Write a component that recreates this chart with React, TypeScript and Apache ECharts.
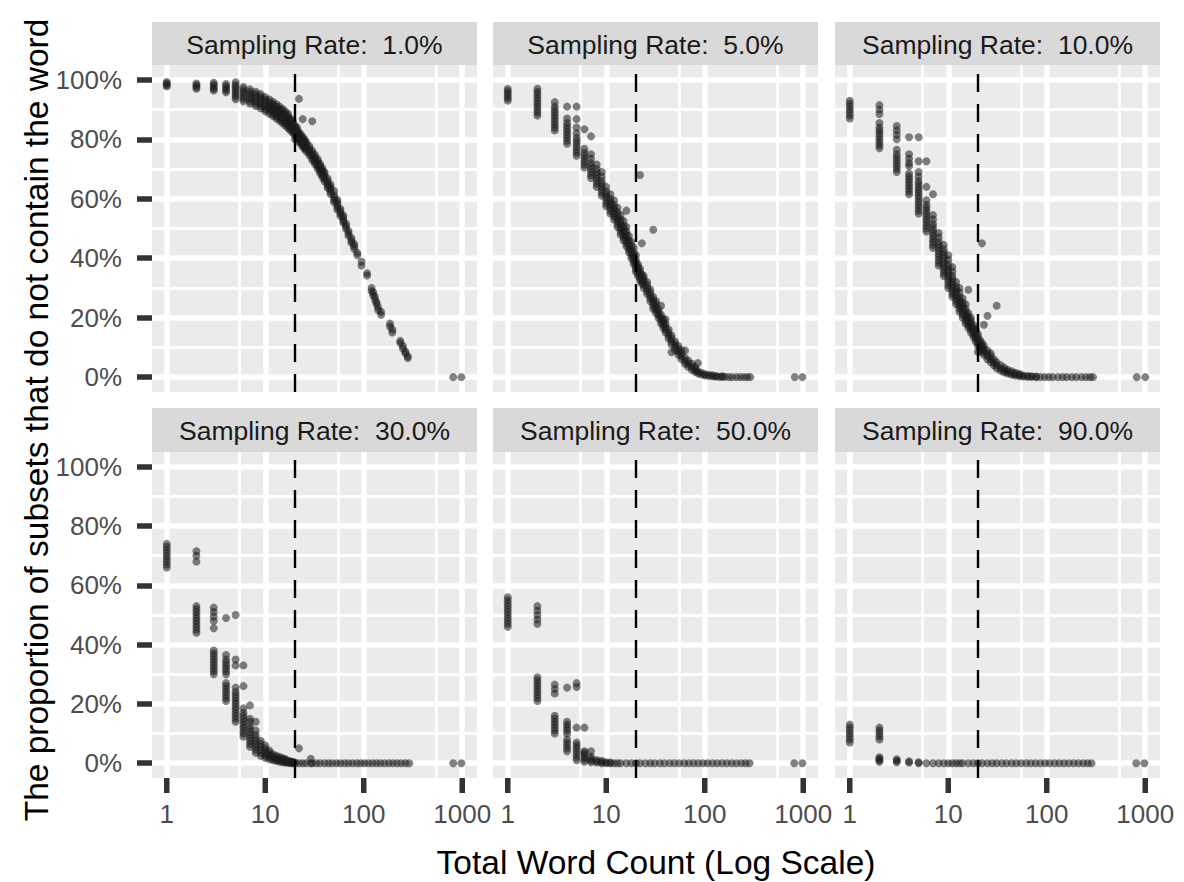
import React, { useEffect, useRef } from "react";
import * as echarts from "echarts";

const FONT = "'Liberation Sans', Arial, Helvetica, sans-serif";

// ---- axis / reference values ----
const xMin = 0.708;
const xMax = 1412.5;
const yMin = -5;
const yMax = 105;
const xTickValues = [1, 10, 100, 1000];
const xMinorGrid = [5.5, 55, 550];
const yTickValues = [0, 20, 40, 60, 80, 100];
const yMinorGrid = [10, 30, 50, 70, 90];
const thresholdCount = 20;
const xTitle = "Total Word Count (Log Scale)";
const yTitle = "The proportion of subsets that do not contain the word";
const panelTitles = [
  "Sampling Rate:  1.0%",
  "Sampling Rate:  5.0%",
  "Sampling Rate:  10.0%",
  "Sampling Rate:  30.0%",
  "Sampling Rate:  50.0%",
  "Sampling Rate:  90.0%",
];

// ---- data: [total word count, proportions (%) observed at that count] ----
const rate1: [number, number[]][] = [
  [1, [97.8, 98.3, 98.8, 99.3]],
  [2, [97, 97.6, 98.2, 98.8]],
  [3, [96.4, 97, 97.7, 98.4, 99]],
  [4, [95.8, 96.5, 97.2, 97.9, 98.6]],
  [5, [93.5, 94.3, 95.1, 95.9, 96.7, 97.5, 98.3, 99.2]],
  [6, [92.8, 93.6, 94.4, 95.2, 96, 96.8, 97.6]],
  [7, [92, 92.8, 93.6, 94.4, 95.2, 96, 96.8]],
  [8, [91.2, 92, 92.8, 93.6, 94.4, 95.2, 96]],
  [9, [90.4, 91.2, 92, 92.8, 93.6, 94.4, 95.2]],
  [10, [89.4, 90.2, 91, 91.8, 92.6, 93.4, 94.2]],
  [11, [88.6, 89.4, 90.2, 91, 91.8, 92.6, 93.4]],
  [12, [87.8, 88.6, 89.4, 90.2, 91, 91.8, 92.6]],
  [13, [87, 87.8, 88.6, 89.4, 90.2, 91, 91.8]],
  [14, [86.2, 87, 87.8, 88.6, 89.4, 90.2, 91]],
  [15, [85.4, 86.2, 87, 87.8, 88.6, 89.4, 90.2]],
  [16, [84.6, 85.4, 86.2, 87, 87.8, 88.6, 89.4]],
  [17, [83.8, 84.6, 85.4, 86.2, 87, 87.8, 88.6]],
  [18, [83, 83.8, 84.6, 85.4, 86.2, 87]],
  [19, [82.2, 83, 83.8, 84.6, 85.4, 86.2]],
  [20, [80, 81.5, 82.3, 83.1, 83.9, 84.7]],
  [21, [80, 80.8, 81.6, 82.4, 83.2, 84]],
  [22, [79.2, 80, 80.8, 81.6, 82.4, 93.6]],
  [23, [78.4, 79.2, 80, 80.8, 81.6]],
  [24, [77.6, 78.4, 79.2, 80, 80.8, 86.8]],
  [25, [76.8, 77.6, 78.4, 79.2, 80]],
  [26, [76, 76.8, 77.6, 78.4, 79.2]],
  [28, [74.6, 75.4, 76.2, 77, 77.8]],
  [30, [73, 73.8, 74.6, 75.4, 76.2, 86.1]],
  [32, [71.6, 72.4, 73.2, 74, 74.8]],
  [34, [70.2, 71, 71.8, 72.6, 73.4]],
  [36, [68.6, 69.4, 70.2, 71, 71.8]],
  [38, [67.2, 68, 68.8, 69.6, 70.4]],
  [40, [65.8, 66.6, 67.4, 68.2, 69]],
  [43, [63.6, 64.4, 65.2, 66, 66.8]],
  [46, [61.6, 62.4, 63.2, 64, 64.8]],
  [50, [58.8, 59.6, 60.4, 61.2, 62.6]],
  [54, [56.4, 57.2, 58, 58.8, 59.6]],
  [58, [54.2, 55, 55.8, 56.6]],
  [62, [52, 52.8, 53.6, 54.4]],
  [66, [50, 50.8, 51.6]],
  [70, [47.6, 48.4, 49.2]],
  [75, [45.2, 46, 46.8]],
  [80, [43.2, 44, 44.8]],
  [86, [41, 41.8]],
  [95, [37.5, 38.8]],
  [108, [34.2, 35]],
  [120, [29, 30]],
  [125, [27.5, 28.5]],
  [130, [26, 27]],
  [135, [24.5, 25.2]],
  [140, [22.6, 23.5]],
  [150, [21, 22]],
  [185, [17, 18]],
  [195, [15, 16]],
  [235, [11.5, 12.2]],
  [250, [9.6, 10.5]],
  [265, [8, 8.6]],
  [280, [6.4, 7]],
  [810, [0]],
  [980, [0]],
];

const rate5: [number, number[]][] = [
  [1, [93, 93.8, 94.6, 95.4, 96.2, 97]],
  [2, [88, 89, 90, 91, 92, 93, 94, 95, 96, 97]],
  [3, [83, 84, 85, 86, 87, 88, 89, 90, 91, 92.5]],
  [4, [78.5, 79.5, 80.5, 81.5, 82.5, 83.5, 84.5, 85.5, 87, 91]],
  [5, [74.5, 75.5, 76.5, 77.5, 78.5, 79.5, 80.5, 82, 84, 86.8, 91]],
  [6, [70.5, 71.5, 72.5, 73.5, 74.5, 75.5, 76.8, 83.4]],
  [7, [67, 68, 69, 70, 71, 72, 73.5, 75, 81]],
  [8, [64, 65, 66, 67, 68, 69, 70, 71.5]],
  [9, [61, 62, 63, 64, 65, 66, 67.5, 69]],
  [10, [57.5, 58.5, 59.5, 60.5, 61.5, 62.5, 64]],
  [11, [55, 56, 57, 58, 59, 60, 61.5]],
  [12, [53, 54, 55, 56, 57, 58, 59.5]],
  [13, [50.5, 51.5, 52.5, 53.5, 54.5, 55.5, 57]],
  [14, [48, 49, 50, 51, 52, 53, 54.5]],
  [15, [46, 47, 48, 49, 50, 51, 52.5]],
  [16, [44, 45, 46, 47, 48, 49, 50.5, 56]],
  [17, [42, 43, 44, 45, 46, 47.5]],
  [18, [40, 41, 42, 43, 44, 45.5]],
  [19, [38, 39, 40, 41, 42, 43.5]],
  [20, [35.5, 36.5, 37.5, 38.5, 39.5, 41]],
  [21, [34, 35, 36, 37, 38]],
  [22, [32.5, 33.5, 34.5, 35.5, 36.5, 68]],
  [23, [31.5, 32.5, 33.5, 34.5, 45]],
  [24, [30, 31, 32, 33, 34]],
  [26, [28, 29, 30, 31, 32]],
  [28, [25.5, 26.5, 27.5, 28.5, 29.5]],
  [30, [23, 24, 25, 26, 27, 49.6]],
  [32, [21.5, 22.5, 23.5, 24.5, 25.5]],
  [34, [19.8, 20.8, 21.8, 22.8]],
  [36, [18, 19, 20, 21, 24]],
  [38, [16.5, 17.5, 18.5, 19.5]],
  [40, [15, 16, 17, 18, 19.5]],
  [43, [13, 14, 15, 16]],
  [46, [11, 12, 13, 14, 8.4]],
  [50, [9, 10, 11, 12]],
  [54, [7.5, 8.5, 9.5, 10.5]],
  [58, [6, 7, 8, 9]],
  [63, [4.5, 5.5, 6.5, 9]],
  [68, [3.5, 4.5, 5.5]],
  [74, [2.5, 3.5, 4.5]],
  [80, [1.8, 2.6, 3.4]],
  [85, [1.3, 2, 4.7]],
  [92, [0.9, 1.5]],
  [100, [0.6, 1]],
  [110, [0.4, 0.8]],
  [120, [0.3, 0.6]],
  [130, [0.2, 0.4]],
  [140, [0.1]],
  [150, [0.1, 0.3]],
  [160, [0.1]],
  [175, [0]],
  [190, [0]],
  [210, [0]],
  [230, [0]],
  [250, [0]],
  [270, [0]],
  [290, [0]],
  [820, [0]],
  [980, [0]],
];

const rate10: [number, number[]][] = [
  [1, [87, 88, 89, 90, 91, 92, 93]],
  [2, [77, 78, 79, 80, 81, 82, 83, 84, 85.5, 88.5, 90, 91.5]],
  [3, [69, 70, 71, 72, 73, 74, 75, 76.5, 80, 81.5, 83, 84.5]],
  [4, [61.5, 62.5, 63.5, 64.5, 65.5, 66.5, 67.5, 68.5, 71, 72, 73.5, 75, 80.7]],
  [5, [55, 56, 57, 58, 59, 60, 61, 62, 63, 64, 65, 66, 67.5, 69, 72.6, 80.7]],
  [6, [49, 50, 51, 52, 53, 54, 55, 56, 57, 58, 59.5, 64, 72.6]],
  [7, [43.5, 44.5, 45.5, 46.5, 47.5, 48.5, 49.5, 50.5, 51.5, 53, 54.5, 61.5]],
  [8, [37.5, 38.5, 39.5, 40.5, 41.5, 42.5, 43.5, 44.5, 45.5, 47, 48.5]],
  [9, [34, 35, 36, 37, 38, 39, 40, 41, 42, 43, 44.5]],
  [10, [30, 31, 32, 33, 34, 35, 36, 37, 38, 39.5, 41]],
  [11, [27, 28, 29, 30, 31, 32, 33, 34, 35.5, 37]],
  [12, [24.5, 25.5, 26.5, 27.5, 28.5, 29.5, 30.5, 32]],
  [13, [22, 23, 24, 25, 26, 27, 28.5, 30]],
  [14, [20, 21, 22, 23, 24, 25, 26.5]],
  [15, [18, 19, 20, 21, 22, 23, 24.5]],
  [16, [16.5, 17.5, 18.5, 19.5, 20.5, 21.5, 29.4]],
  [17, [15, 16, 17, 18, 19, 20]],
  [18, [13.5, 14.5, 15.5, 16.5, 17.5]],
  [19, [12, 13, 14, 15, 16]],
  [20, [10.5, 11.5, 12.5, 13.5, 14.5, 8.5]],
  [21, [9.5, 10.5, 11.5, 12.5]],
  [22, [8.5, 9.5, 10.5, 11.5, 45]],
  [23, [7.5, 8.5, 9.5, 10.5, 17.6]],
  [25, [6, 7, 8, 9, 20.6]],
  [27, [5, 6, 7, 8]],
  [29, [4, 5, 6]],
  [31, [3, 4, 5, 24]],
  [34, [2.2, 3, 4]],
  [37, [1.6, 2.4, 3.2]],
  [40, [1.2, 1.8, 2.5]],
  [44, [0.8, 1.4, 2]],
  [48, [0.5, 1, 1.5]],
  [53, [0.3, 0.7, 1.1]],
  [58, [0.2, 0.5]],
  [64, [0.1, 0.4]],
  [70, [0.1, 0.3]],
  [78, [0, 0.2]],
  [86, [0]],
  [95, [0]],
  [105, [0]],
  [115, [0]],
  [130, [0]],
  [145, [0]],
  [160, [0]],
  [180, [0]],
  [200, [0]],
  [225, [0]],
  [250, [0]],
  [275, [0]],
  [295, [0]],
  [820, [0]],
  [1000, [0]],
];

const rate30: [number, number[]][] = [
  [1, [66, 67, 68, 69, 70, 71, 72, 73, 74]],
  [2, [68, 70, 71.5, 44, 45, 46, 47, 48, 49, 50, 51, 52, 53]],
  [3, [45.5, 48, 49.5, 51, 52.5, 30, 31, 32, 33, 34, 35, 36, 37, 38]],
  [4, [49, 30, 31, 32, 33, 34, 35, 36.5, 21, 22, 23, 24, 25, 26, 27]],
  [5, [50, 33, 35, 14, 15, 16, 17, 18, 19, 20, 21, 22, 23, 24, 25.5]],
  [6, [33, 26, 9, 10, 11, 12, 13, 14, 15, 16, 17, 18.5]],
  [7, [19.5, 5.5, 6.5, 7.5, 8.5, 9.5, 10.5, 11.5, 12.5, 14, 15]],
  [8, [14, 3.5, 4.5, 5.5, 6.5, 7.5, 8.5, 9.5, 11]],
  [9, [2.5, 3.5, 4.5, 5.5, 6.5, 7.5]],
  [10, [1.8, 2.5, 3.3, 4.1, 5, 6]],
  [11, [1.3, 2, 2.7, 3.5, 4.3]],
  [12, [1, 1.6, 2.3, 3]],
  [13, [0.7, 1.2, 1.8, 2.5]],
  [14, [0.5, 1, 1.5, 2.1]],
  [15, [0.3, 0.7, 1.2, 1.7]],
  [16, [0.2, 0.5, 1, 1.4]],
  [17, [0.1, 0.4, 0.8]],
  [18, [0, 0.3, 0.6]],
  [19, [0, 0.2, 0.5]],
  [20, [0, 0.2]],
  [22, [0, 5]],
  [24, [0]],
  [26, [0]],
  [29, [0, 1.5]],
  [30, [0]],
  [33, [0]],
  [36, [0]],
  [40, [0]],
  [44, [0]],
  [48, [0]],
  [53, [0]],
  [58, [0]],
  [64, [0]],
  [70, [0]],
  [77, [0]],
  [85, [0]],
  [93, [0]],
  [102, [0]],
  [112, [0]],
  [123, [0]],
  [135, [0]],
  [148, [0]],
  [163, [0]],
  [180, [0]],
  [198, [0]],
  [218, [0]],
  [240, [0]],
  [265, [0]],
  [290, [0]],
  [810, [0]],
  [980, [0]],
];

const rate50: [number, number[]][] = [
  [1, [46, 47, 48, 49, 50, 51, 52, 53, 54, 55, 56]],
  [2, [47, 48.5, 50, 51.5, 53, 21, 22, 23, 24, 25, 26, 27, 28, 29]],
  [3, [23.5, 25, 26.5, 10, 11, 12, 13, 14, 15, 16]],
  [4, [25.5, 10, 11, 12, 13, 14, 4, 5, 6, 7, 8]],
  [5, [27, 25.7, 12, 1, 2, 3, 4, 5, 6, 7]],
  [6, [12, 4, 0.5, 1.2, 2, 2.8, 3.6]],
  [7, [4, 0.3, 0.9, 1.5, 2.2]],
  [8, [0.2, 0.6, 1.1]],
  [9, [0, 0.4, 0.8]],
  [10, [0, 0.3]],
  [11, [0, 0.2]],
  [12, [0]],
  [13, [0]],
  [14, [0]],
  [16, [0]],
  [18, [0]],
  [20, [0]],
  [22, [0]],
  [25, [0]],
  [28, [0]],
  [31, [0]],
  [35, [0]],
  [39, [0]],
  [44, [0]],
  [49, [0]],
  [55, [0]],
  [62, [0]],
  [69, [0]],
  [77, [0]],
  [86, [0]],
  [96, [0]],
  [107, [0]],
  [120, [0]],
  [134, [0]],
  [150, [0]],
  [168, [0]],
  [188, [0]],
  [210, [0]],
  [235, [0]],
  [260, [0]],
  [285, [0]],
  [810, [0]],
  [980, [0]],
];

const rate90: [number, number[]][] = [
  [1, [7, 8, 9, 10, 11, 12, 13]],
  [2, [8, 9, 10, 11, 12, 0.5, 1, 1.5, 2]],
  [3, [0.3, 0.8, 1.3]],
  [4, [0.2, 0.6]],
  [5, [0, 0.3]],
  [6, [0]],
  [7, [0]],
  [8, [0]],
  [9, [0]],
  [10, [0]],
  [11, [0]],
  [12, [0]],
  [13, [0]],
  [14, [0]],
  [16, [0]],
  [18, [0]],
  [20, [0]],
  [22, [0]],
  [25, [0]],
  [28, [0]],
  [31, [0]],
  [35, [0]],
  [39, [0]],
  [44, [0]],
  [49, [0]],
  [55, [0]],
  [62, [0]],
  [69, [0]],
  [77, [0]],
  [86, [0]],
  [96, [0]],
  [107, [0]],
  [120, [0]],
  [134, [0]],
  [150, [0]],
  [168, [0]],
  [188, [0]],
  [210, [0]],
  [235, [0]],
  [260, [0]],
  [285, [0]],
  [810, [0]],
  [980, [0]],
];

const panelData = [rate1, rate5, rate10, rate30, rate50, rate90];

// ---- layout ----
const colLeft = [152, 493, 835];
const panelW = 325;
const rowTop = [65, 452];
const panelH = [327, 326];
const stripTop = [22, 408];
const stripH = [43, 44];
const TICK_LEN = 15;
const TICK_W = 5.5;

function toPoints(cols: [number, number[]][]) {
  const out: number[][] = [];
  cols.forEach(([x, ys]) => ys.forEach((y) => out.push([x, y])));
  return out;
}

export default function App() {
  const ref = useRef<HTMLDivElement>(null);

  useEffect(() => {
    if (!ref.current) return;
    document.body.style.margin = "0";
    const chart = echarts.init(ref.current, undefined, { renderer: "svg" });

    const grids: any[] = [];
    const xAxes: any[] = [];
    const yAxes: any[] = [];
    const series: any[] = [];
    const graphics: any[] = [];

    for (let i = 0; i < 6; i++) {
      const row = Math.floor(i / 3);
      const col = i % 3;
      grids.push({
        left: colLeft[col],
        top: rowTop[row],
        width: panelW,
        height: panelH[row],
        show: true,
        backgroundColor: "#EBEBEB",
        borderWidth: 0,
        containLabel: false,
      });
      xAxes.push({
        type: "log",
        logBase: 10,
        gridIndex: i,
        position: "bottom",
        min: xMin,
        max: xMax,
        axisLine: { show: false, onZero: false },
        splitLine: { show: false },
        minorTick: { show: false },
        minorSplitLine: { show: false },
        axisTick: { show: false },
        axisLabel: {
          show: row === 1,
          customValues: xTickValues,
          margin: 23,
          fontSize: 26,
          color: "#4D4D4D",
          fontFamily: FONT,
          formatter: (v: number) => String(Math.round(v)),
        },
      });
      yAxes.push({
        type: "value",
        gridIndex: i,
        position: "left",
        min: yMin,
        max: yMax,
        axisLine: { show: false, onZero: false },
        splitLine: { show: false },
        axisTick: {
          show: col === 0,
          length: TICK_LEN,
          customValues: yTickValues,
          lineStyle: { color: "#333333", width: TICK_W },
        },
        axisLabel: {
          show: col === 0,
          customValues: yTickValues,
          margin: 30,
          fontSize: 26,
          color: "#4D4D4D",
          fontFamily: FONT,
          formatter: (v: number) => Math.round(v) + "%",
        },
      });

      const minorStyle = { color: "#FFFFFF", width: 2.8, type: "solid" };
      const majorStyle = { color: "#FFFFFF", width: 5.5, type: "solid" };
      series.push({
        type: "scatter",
        xAxisIndex: i,
        yAxisIndex: i,
        data: [],
        silent: true,
        z: 1,
        markLine: {
          silent: true,
          symbol: ["none", "none"],
          label: { show: false },
          emphasis: { disabled: true },
          z: 1,
          data: [
            ...yMinorGrid.map((v) => ({ yAxis: v, lineStyle: minorStyle })),
            ...xMinorGrid.map((v) => ({ xAxis: v, lineStyle: minorStyle })),
            ...yTickValues.map((v) => ({ yAxis: v, lineStyle: majorStyle })),
            ...xTickValues.map((v) => ({ xAxis: v, lineStyle: majorStyle })),
          ],
        },
      });
      series.push({
        type: "scatter",
        name: panelTitles[i],
        xAxisIndex: i,
        yAxisIndex: i,
        data: toPoints(panelData[i]),
        symbol: "circle",
        symbolSize: 8,
        itemStyle: { color: "#1C1C1C", opacity: 0.55 },
        silent: true,
        z: 10,
      });
      series.push({
        type: "scatter",
        xAxisIndex: i,
        yAxisIndex: i,
        data: [],
        silent: true,
        z: 30,
        markLine: {
          silent: true,
          symbol: ["none", "none"],
          label: { show: false },
          emphasis: { disabled: true },
          z: 30,
          data: [
            {
              xAxis: thresholdCount,
              lineStyle: { color: "#000000", width: 2.4, type: [18, 12] },
            },
          ],
        },
      });

      graphics.push({
        type: "rect",
        shape: { x: colLeft[col], y: stripTop[row], width: panelW, height: stripH[row] },
        style: { fill: "#D9D9D9" },
        silent: true,
      });
      graphics.push({
        type: "text",
        x: colLeft[col] + panelW / 2,
        y: stripTop[row] + stripH[row] / 2 + 1,
        style: {
          text: panelTitles[i],
          fontSize: 26.5,
          fontFamily: FONT,
          fill: "#1A1A1A",
          align: "center",
          verticalAlign: "middle",
        },
        silent: true,
      });
    }

    // helper strips under the bottom-row panels that carry the x tick marks
    for (let c = 0; c < 3; c++) {
      const gi = grids.length;
      grids.push({
        left: colLeft[c],
        top: rowTop[1] + panelH[1],
        width: panelW,
        height: TICK_LEN,
        show: false,
        containLabel: false,
      });
      xAxes.push({
        type: "log",
        logBase: 10,
        gridIndex: gi,
        min: xMin,
        max: xMax,
        show: false,
      });
      yAxes.push({
        type: "value",
        gridIndex: gi,
        min: 0,
        max: 1,
        show: false,
      });
      series.push({
        type: "custom",
        xAxisIndex: gi,
        yAxisIndex: gi,
        silent: true,
        clip: false,
        z: 40,
        data: xTickValues.map((v) => [v, 1]),
        renderItem: (_params: any, api: any) => {
          const top = api.coord([api.value(0), 1]);
          const bottom = api.coord([api.value(0), 0]);
          return {
            type: "rect",
            shape: {
              x: top[0] - TICK_W / 2,
              y: top[1],
              width: TICK_W,
              height: bottom[1] - top[1],
            },
            style: { fill: "#333333" },
          };
        },
      });
    }

    graphics.push({
      type: "text",
      x: (colLeft[0] + colLeft[2] + panelW) / 2,
      y: 862,
      style: {
        text: xTitle,
        fontSize: 33.5,
        fontFamily: FONT,
        fill: "#000000",
        align: "center",
        verticalAlign: "middle",
      },
      silent: true,
    });
    graphics.push({
      type: "text",
      x: 36,
      y: 420,
      rotation: Math.PI / 2,
      style: {
        text: yTitle,
        fontSize: 33.5,
        fontFamily: FONT,
        fill: "#000000",
        align: "center",
        verticalAlign: "middle",
      },
      silent: true,
    });

    chart.setOption({
      animation: false,
      backgroundColor: "#FFFFFF",
      grid: grids,
      xAxis: xAxes,
      yAxis: yAxes,
      series,
      graphic: { elements: graphics },
    });

    return () => {
      chart.dispose();
    };
  }, []);

  return (
    <div
      ref={ref}
      style={{ position: "absolute", left: 0, top: 0, width: 1184, height: 882 }}
    />
  );
}
